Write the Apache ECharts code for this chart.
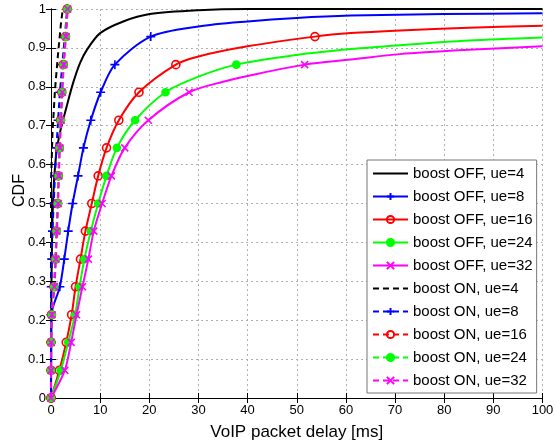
<!DOCTYPE html>
<html><head><meta charset="utf-8">
<script src="https://cdn.jsdelivr.net/npm/echarts@6/dist/echarts.min.js"></script>
<style>html,body{margin:0;padding:0;background:#fff}#c{width:555px;height:444px}</style>
</head><body><div id="c"></div>
<script>
// ---- data ----
const seriesNames = ['boost OFF, ue=4','boost OFF, ue=8','boost OFF, ue=16','boost OFF, ue=24','boost OFF, ue=32',
                     'boost ON, ue=4','boost ON, ue=8','boost ON, ue=16','boost ON, ue=24','boost ON, ue=32'];
const xTickValues = [0,10,20,30,40,50,60,70,80,90,100];
const yTickValues = [0,0.1,0.2,0.3,0.4,0.5,0.6,0.7,0.8,0.9,1];

// boost OFF curves: [delay ms, CDF]; "Marks" are points carrying a marker, "Extra" are plain line points
const offUe4 = [[0,0],[0.1,0.3],[0.4,0.5],[1.0,0.62],[1.8,0.681],[3.2,0.75],[4.5,0.81],[5.9,0.861],[7.3,0.895],[10,0.938],[14.7,0.968],[20.1,0.987],[30,0.997],[40,1.0],[100,1.0]];
const offUe8Marks = [[0,0],[0.02,0.071],[0.05,0.143],[0.1,0.214],[1.8,0.286],[2.7,0.357],[3.5,0.429],[4.4,0.5],[5.5,0.571],[6.6,0.643],[8.1,0.714],[10.1,0.786],[13.0,0.857],[20.3,0.929]];
const offUe8Extra = [[30,0.955],[40,0.968],[50,0.977],[61,0.983],[80,0.987],[100,0.989]];
const offUe16Marks = [[0,0],[1.7,0.071],[3.1,0.143],[4.2,0.214],[5.0,0.286],[6.0,0.357],[7.0,0.429],[8.3,0.5],[9.6,0.571],[11.3,0.643],[13.8,0.714],[17.9,0.786],[25.4,0.857],[53.7,0.929]];
const offUe16Extra = [[30,0.878],[40,0.904],[61,0.938],[71,0.945],[85,0.952],[100,0.957]];
const offUe24Marks = [[0,0],[2.0,0.071],[3.5,0.143],[4.9,0.214],[5.8,0.286],[6.8,0.357],[8.1,0.429],[9.6,0.5],[11.3,0.571],[13.4,0.643],[17.1,0.714],[23.3,0.786],[37.7,0.857]];
const offUe24Extra = [[30,0.826],[50,0.882],[61,0.897],[71,0.907],[85,0.919],[100,0.927]];
const offUe32Marks = [[0,0],[2.8,0.071],[4.1,0.143],[5.2,0.214],[6.4,0.286],[7.6,0.357],[8.7,0.429],[10.4,0.5],[12.3,0.571],[15.0,0.643],[19.8,0.714],[28.1,0.786],[51.6,0.857]];
const offUe32Extra = [[35,0.813],[40,0.828],[61,0.870],[71,0.884],[85,0.895],[100,0.904]];

// boost ON curves
const onUe4 = [[0,0],[0,0.55],[0.3,0.68],[0.8,0.79],[1.4,0.88],[2.0,0.96],[2.4,1.0]];
const onUe8Marks = [[0,0],[0,0.071],[0,0.143],[0,0.214],[0.05,0.286],[0.15,0.357],[0.3,0.429],[0.55,0.5],[0.8,0.571],[1.1,0.643],[1.45,0.714],[1.8,0.786],[2.3,0.857],[2.8,0.929],[3.3,1.0]];
const onUe16Marks = [[0,0],[0,0.071],[0,0.143],[0.1,0.214],[0.6,0.286],[0.9,0.357],[1.1,0.429],[1.35,0.5],[1.5,0.571],[1.7,0.643],[1.95,0.714],[2.2,0.786],[2.5,0.857],[2.95,0.929],[3.3,1.0]];
const onUe24Marks = [[0,0],[0,0.071],[0.05,0.143],[0.15,0.214],[0.65,0.286],[0.95,0.357],[1.15,0.429],[1.4,0.5],[1.55,0.571],[1.75,0.643],[2.0,0.714],[2.25,0.786],[2.55,0.857],[3.0,0.929],[3.35,1.0]];
const onUe32Marks = [[0,0],[0,0.071],[0.05,0.143],[0.2,0.214],[0.7,0.286],[1.0,0.357],[1.2,0.429],[1.45,0.5],[1.6,0.571],[1.8,0.643],[2.05,0.714],[2.3,0.786],[2.6,0.857],[3.05,0.929],[3.4,1.0]];

// ---- styling / building ----
const FONT = '"Liberation Sans", Arial, Helvetica, sans-serif';
const PLUS = 'path://M5,0L5,10M0,5L10,5';
const CROSS = 'path://M0,0L10,10M10,0L0,10';
const CLEAR = 'rgba(0,0,0,0)';

function combine(marks, extra) {
  const pts = marks.map(p => ({value: p}));
  (extra || []).forEach(p => pts.push({value: p, symbol: 'none'}));
  pts.sort((a, b) => (a.value[0] - b.value[0]) || (a.value[1] - b.value[1]));
  return pts;
}
const styles = [
  {c:'#000000', sym:'none', size:0, fill:'#000000'},
  {c:'#0000ff', sym:PLUS, size:9, fill:'#0000ff'},
  {c:'#ff0000', sym:'circle', size:8, fill:'rgba(255,255,255,0)'},
  {c:'#00ff00', sym:'circle', size:7, fill:'#00ff00'},
  {c:'#ff00ff', sym:CROSS, size:7, fill:'#ff00ff'}
];
const curveData = [
  combine(offUe4), combine(offUe8Marks, offUe8Extra), combine(offUe16Marks, offUe16Extra),
  combine(offUe24Marks, offUe24Extra), combine(offUe32Marks, offUe32Extra),
  combine(onUe4), combine(onUe8Marks), combine(onUe16Marks), combine(onUe24Marks), combine(onUe32Marks)
];

const series = curveData.map((data, i) => {
  const st = styles[i % 5];
  const on = i >= 5;
  return {
    name: seriesNames[i], type: 'line', data: data,
    symbol: st.sym, symbolSize: st.size, showSymbol: st.sym !== 'none', showAllSymbol: true,
    smooth: on ? false : 0.3, clip: true,
    lineStyle: {color: st.c, width: 2, type: on ? [6, 4] : 'solid'},
    itemStyle: {color: st.fill, borderColor: st.c, borderWidth: 1.6},
    emphasis: {disabled: true}, animation: false, z: 2 + i
  };
});

const legendData = seriesNames.map((n, i) => (i % 5 === 0)
  ? {name: n, itemStyle: {color: CLEAR, borderColor: CLEAR, borderWidth: 0}}
  : {name: n});

const axisCommon = {
  type: 'value',
  axisLine: {show: true, lineStyle: {color: '#000', width: 1}},
  axisTick: {show: true, inside: true, length: 5, lineStyle: {color: '#000'}},
};

const option = {
  backgroundColor: '#fff',
  animation: false,
  grid: {left: 51, right: 12.5, top: 9, bottom: 46, containLabel: false, outerBoundsMode: 'none'},
  legend: {
    orient: 'vertical', left: 367, top: 160,
    backgroundColor: '#fff', borderColor: '#777', borderWidth: 1,
    padding: [6, 4, 5, 5], itemGap: 8, itemWidth: 35, itemHeight: 9,
    textStyle: {fontFamily: FONT, fontSize: 15, color: '#000', lineHeight: 15},
    data: legendData
  },
  xAxis: [
    Object.assign({}, axisCommon, {
      min: 0, max: 100, interval: 10, position: 'bottom',
      axisLabel: {fontFamily: FONT, fontSize: 13, color: '#000', margin: 6,
        formatter: v => xTickValues.includes(v) ? String(v) : ''},
      splitLine: {show: true, lineStyle: {color: '#b0b0b0', type: [2, 3], width: 1}},
      name: 'VoIP packet delay [ms]', nameLocation: 'middle', nameGap: 26, nameMoveOverlap: false,
      nameTextStyle: {fontFamily: FONT, fontSize: 17, color: '#000'}
    }),
    Object.assign({}, axisCommon, {
      min: 0, max: 100, interval: 10, position: 'top',
      axisLabel: {show: false}, splitLine: {show: false}
    })
  ],
  yAxis: [
    Object.assign({}, axisCommon, {
      min: 0, max: 1, interval: 0.1, position: 'left',
      axisLabel: {fontFamily: FONT, fontSize: 13, color: '#000', margin: 5,
        formatter: v => { const t = yTickValues.find(y => Math.abs(y - v) < 1e-9); return t === undefined ? '' : String(t); }},
      splitLine: {show: true, lineStyle: {color: '#b0b0b0', type: [2, 3], width: 1}},
      name: 'CDF', nameLocation: 'middle', nameGap: 23, nameRotate: 90, nameMoveOverlap: false,
      nameTextStyle: {fontFamily: FONT, fontSize: 16, color: '#000', padding: [0, 0, 0, 26]}
    }),
    Object.assign({}, axisCommon, {
      min: 0, max: 1, interval: 0.1, position: 'right',
      axisLabel: {show: false}, splitLine: {show: false}
    })
  ],
  series: series
};

const chart = echarts.init(document.getElementById('c'), null, {renderer: 'canvas'});
chart.setOption(option);
</script>
</body></html>
